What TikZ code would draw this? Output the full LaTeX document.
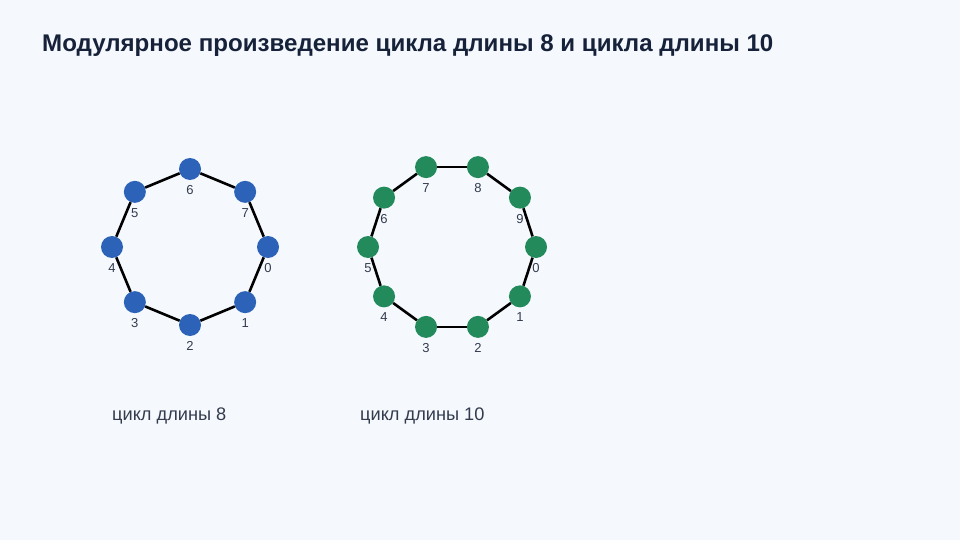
\documentclass[tikz,border=0pt]{standalone}
\usepackage{fontspec}
\setmainfont{Liberation Sans}
\definecolor{bg}{HTML}{F5F9FD}
\definecolor{titlec}{HTML}{16213A}
\definecolor{labc}{HTML}{333B4D}
\definecolor{bluec}{HTML}{2D62B9}
\definecolor{greenc}{HTML}{238A5B}
\tikzset{
  bnode/.style={circle,fill=bluec,minimum size=22pt,inner sep=0pt},
  gnode/.style={circle,fill=greenc,minimum size=22pt,inner sep=0pt},
  edge/.style={line width=2.6pt,black},
  vlab/.style={font=\fontsize{13}{13}\selectfont,text=labc,inner sep=0pt},
  captxt/.style={font=\fontsize{18.2}{18.2}\selectfont,text=labc,anchor=base west,inner sep=0pt},
}
\begin{document}
\begin{tikzpicture}[x=1pt,y=-1pt]
\fill[bg] (0,0) rectangle (960,540);
\useasboundingbox (0,0) rectangle (960,540);
\node[anchor=base west,inner sep=0pt,text=titlec,font=\fontsize{24.1}{24.1}\selectfont\bfseries] (title) at (42,51.5) {Модулярное произведение цикла длины 8 и цикла длины 10};
% cycle 8
\foreach \i in {0,...,7}{
  \node[bnode] (a\i) at ({190+78*cos(45*\i)},{247+78*sin(45*\i)}) {};
}
\foreach \i [evaluate=\i as \j using {int(mod(\i+1,8))}] in {0,...,7}{
  \draw[edge] (a\i) -- (a\j);
}
\foreach \i in {0,...,7}{
  \node[vlab] (la\i) at ([yshift=-21pt]a\i.center) {\i};
}
% cycle 10
\foreach \i in {0,...,9}{
  \node[gnode] (b\i) at ({452+84*cos(36*\i)},{247+84*sin(36*\i)}) {};
}
\foreach \i [evaluate=\i as \j using {int(mod(\i+1,10))}] in {0,...,9}{
  \draw[edge] (b\i) -- (b\j);
}
\foreach \i in {0,...,9}{
  \node[vlab] (lb\i) at ([yshift=-21pt]b\i.center) {\i};
}
\node[captxt] (c8) at (112,420) {цикл длины 8};
\node[captxt] (c10) at (360,420) {цикл длины 10};
\end{tikzpicture}
\end{document}
